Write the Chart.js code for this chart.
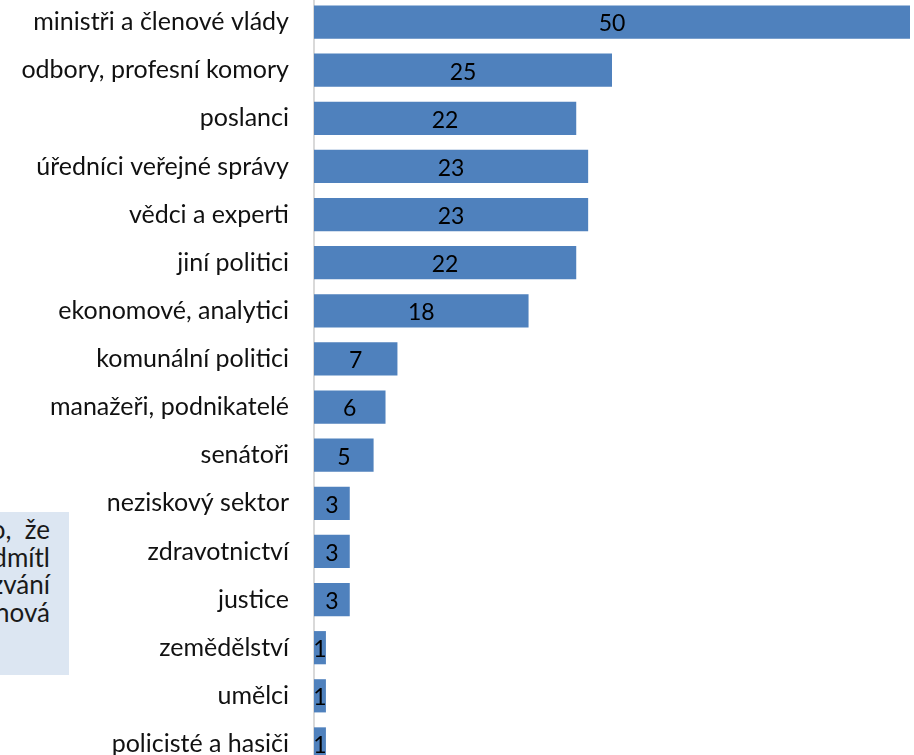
<!DOCTYPE html>
<html>
<head>
<meta charset="utf-8">
<script src="https://cdn.jsdelivr.net/npm/chart.js@4"></script>
<style>
  html, body { margin: 0; padding: 0; background: #fff; overflow: hidden; width: 914px; height: 755px; }
  #poznamka {
    position: absolute; left: 0; top: 512px; width: 69px; height: 163px;
    background: #dce6f2; font-family: Lato, sans-serif; font-size: 26px;
    color: #1a1a1a; overflow: hidden;
  }
  #poznamka div { position: absolute; right: 19px; top: 4px; white-space: nowrap; line-height: 27.7px; text-align: right; }
  #graf { position: absolute; left: 0; top: -2px; }
</style>
</head>
<body>
<div id="poznamka">
  <div>o,&nbsp;&nbsp;že<br>dmítl<br>zvání<br>nová</div>
</div>
<canvas id="graf" width="914" height="770"></canvas>
<script>
const kategorie = [
    'ministři a členové vlády',
    'odbory, profesní komory',
    'poslanci',
    'úředníci veřejné správy',
    'vědci a experti',
    'jiní politici',
    'ekonomové, analytici',
    'komunální politici',
    'manažeři, podnikatelé',
    'senátoři',
    'neziskový sektor',
    'zdravotnictví',
    'justice',
    'zemědělství',
    'umělci',
    'policisté a hasiči'
];
const hodnoty = [50, 25, 22, 23, 23, 22, 18, 7, 6, 5, 3, 3, 3, 1, 1, 1];

// popisky hodnot uprostřed sloupců
const popiskyHodnot = {
    id: 'popiskyHodnot',
    afterDatasetsDraw(chart) {
        const ctx = chart.ctx;
        const meta = chart.getDatasetMeta(0);
        ctx.save();
        ctx.font = '23px Lato, sans-serif';
        ctx.fillStyle = '#000';
        ctx.textAlign = 'center';
        ctx.textBaseline = 'middle';
        meta.data.forEach((bar, i) => {
            const x = (bar.base + bar.x) / 2;
            ctx.fillText(String(hodnoty[i]), x, bar.y + 2);
        });
        ctx.restore();
    }
};

function nakreslitGraf() {
    const ctx = document.getElementById('graf').getContext('2d');
    new Chart(ctx, {
        type: 'bar',
        data: {
            labels: kategorie,
            datasets: [{
                data: hodnoty,
                backgroundColor: '#4f81bd',
                borderWidth: 0,
                categoryPercentage: 0.69,
                barPercentage: 1
            }]
        },
        options: {
            indexAxis: 'y',
            responsive: false,
            animation: false,
            layout: { padding: { top: 0, bottom: 0, left: 0, right: 4 } },
            plugins: {
                legend: { display: false },
                tooltip: { enabled: false }
            },
            scales: {
                x: {
                    min: 0,
                    max: 50,
                    display: false
                },
                y: {
                    afterFit(scale) {
                        scale.width = 314;
                        scale.paddingTop = 0;
                        scale.paddingBottom = 0;
                    },
                    grid: { display: false, drawTicks: false },
                    border: { display: true, color: '#d9d9d9', width: 2 },
                    ticks: {
                        padding: 25,
                        color: '#111',
                        font: { family: 'Lato, sans-serif', size: 25 }
                    }
                }
            }
        },
        plugins: [popiskyHodnot]
    });
}

window.onload = nakreslitGraf;
</script>
</body>
</html>
